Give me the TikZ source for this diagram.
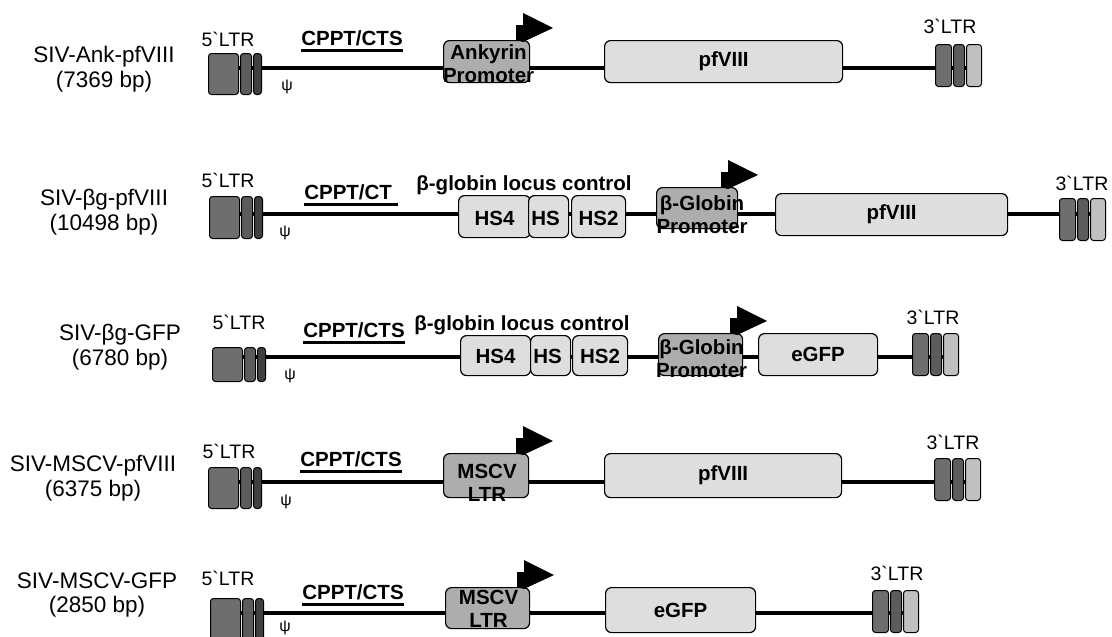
\documentclass[tikz,border=0pt]{standalone}
\usepackage{fontspec}
\setmainfont{Liberation Sans}
\usetikzlibrary{calc}
\definecolor{ltrgray}{HTML}{6E6E6E}
\definecolor{ltrmid}{HTML}{5C5C5C}
\definecolor{ltrdark}{HTML}{404040}
\definecolor{ltrlight}{HTML}{C0C0C0}
\definecolor{genefill}{HTML}{DEDEDE}
\definecolor{promfill}{HTML}{ADADAD}
\newcommand{\genefont}{\fontsize{20.5}{23}\selectfont\bfseries}
\newcommand{\rowfont}{\fontsize{22.5}{24.5}\selectfont}
\newcommand{\ltrfont}{\fontsize{19.5}{20}\selectfont}
\newcommand{\psifont}{\fontsize{16}{16}\selectfont}
% thick underline
\newcommand{\thickul}[1]{\sbox0{#1}\rlap{\rule[-6.5pt]{\wd0}{2.4pt}}\box0}
\tikzset{
  backbone/.style={line width=3.5pt},
  ltrbox/.style={draw, line width=1pt, rounded corners=3pt, inner sep=0pt, minimum height=42pt},
  gene/.style={draw, line width=1.2pt, rounded corners=6pt, fill=genefill, inner sep=0pt, minimum height=42pt, font=\genefont},
  promo/.style={gene, fill=promfill},
  boxtext/.style={font=\genefont, align=center, inner sep=0pt},
  rowname/.style={font=\rowfont, align=center, inner sep=0pt},
  ltrtext/.style={font=\ltrfont, inner sep=0pt},
  psitext/.style={font=\psifont, inner sep=0pt},
  cppt/.style={font=\genefont, inner sep=0pt},
  flag/.style={fill=black}
}
% 5' LTR: name, left x, top y, height
\newcommand{\fiveltr}[4]{
  \node[ltrbox, fill=ltrgray, minimum width=30pt, minimum height=#4pt, anchor=north west] (#1a) at (#2,#3) {};
  \node[ltrbox, fill=ltrmid, minimum width=11pt, minimum height=#4pt, anchor=north west] (#1b) at ([xshift=1pt]#1a.north east) {};
  \node[ltrbox, fill=ltrdark, minimum width=8pt, minimum height=#4pt, anchor=north west] (#1c) at ([xshift=1pt]#1b.north east) {};
}
% 3' LTR: name, left x, top y
\newcommand{\threeltr}[3]{
  \node[ltrbox, fill=ltrgray, minimum width=16pt, anchor=north west] (#1a) at (#2,#3) {};
  \node[ltrbox, fill=ltrmid, minimum width=11pt, anchor=north west] (#1b) at ([xshift=1pt]#1a.north east) {};
  \node[ltrbox, fill=ltrlight, minimum width=15pt, anchor=north west] (#1c) at ([xshift=1pt]#1b.north east) {};
}
% promoter flag: name, x, top of box
\newcommand{\promflag}[3]{
  \coordinate (#1) at (#2,#3);
  \fill[flag] (#2-7,#3) -- (#2-7,#3-15) -- (#2,#3-15) -- (#2,#3-27) -- (#2+30,#3-12) -- (#2,#3+2) -- cycle;
}

\begin{document}
\begin{tikzpicture}[x=1pt, y=-1pt]
  \useasboundingbox (0,0) rectangle (1112,637);
  % row 1
  \coordinate (s1) at (215,68);
  \coordinate (e1) at (970,68);
  \draw[backbone] (s1) -- (e1);
  \node[rowname] (n1) at (104,69) {SIV-Ank-pfVIII\\(7369 bp)};
  \fiveltr{fa}{208}{53}{41}
  \node[ltrtext] (fat) at (228,39) {5\textasciigrave LTR};
  \node[psitext] (pa) at (287,87) {ψ};
  \node[cppt] (ca) at (352,41) {\thickul{CPPT/CTS}};
  \node[promo, minimum width=86pt, anchor=north west] (pra) at (443,40) {};
  \node[boxtext] (prat) at ([xshift=2pt,yshift=-2pt]pra.center) {Ankyrin\\Promoter};
  \promflag{fla}{523}{40}
  \node[gene, minimum width=238pt, anchor=north west] (ga) at (604,40) {pfVIII};
  \threeltr{ta}{935}{44}
  \node[ltrtext] (tat) at (950,26) {3\textasciigrave LTR};
  % row 2
  \coordinate (s2) at (215,214);
  \coordinate (e2) at (1090,214);
  \draw[backbone] (s2) -- (e2);
  \node[rowname] (n2) at (104,212) {SIV-βg-pfVIII\\(10498 bp)};
  \fiveltr{fb}{209}{196}{42}
  \node[ltrtext] (fbt) at (228,180) {5\textasciigrave LTR};
  \node[psitext] (pb) at (285,233) {ψ};
  \node[cppt] (cb) at (351,195) {\thickul{CPPT/CT\ }};
  \node[boxtext] (lcb) at (524,185) {β-globin locus control};
  \node[gene, minimum width=72pt, anchor=north west] (hsb1) at (458,195) {};
  \node[gene, minimum width=40pt, anchor=north west] (hsb2) at (528,195) {};
  \node[gene, minimum width=54pt, anchor=north west] (hsb3) at (571,195) {};
  \node[boxtext] (hsb1t) at ([yshift=-2pt]hsb1.center) {HS4};
  \node[boxtext] (hsb2t) at ([xshift=-3pt,yshift=-2pt]hsb2.center) {HS};
  \node[boxtext] (hsb3t) at ([yshift=-2pt]hsb3.center) {HS2};
  \node[promo, minimum width=81pt, minimum height=41pt, anchor=north west] (prb) at (656,187) {};
  \node[boxtext] (prbt) at ([xshift=5pt,yshift=-7pt]prb.center) {β-Globin\\Promoter};
  \promflag{flb}{728}{187}
  \node[gene, minimum width=232pt, minimum height=42pt, anchor=north west] (gb) at (775,193) {pfVIII};
  \threeltr{tb}{1059}{198}
  \node[ltrtext] (tbt) at (1082,183) {3\textasciigrave LTR};
  % row 3
  \coordinate (s3) at (220,357);
  \coordinate (e3) at (945,357);
  \draw[backbone] (s3) -- (e3);
  \node[rowname] (n3) at (120,347) {SIV-βg-GFP\\(6780 bp)};
  \fiveltr{fc}{212}{347}{34}
  \node[ltrtext] (fct) at (239,322) {5\textasciigrave LTR};
  \node[psitext] (pc) at (290,376) {ψ};
  \node[cppt] (cc) at (354,333) {\thickul{CPPT/CTS}};
  \node[boxtext] (lcc) at (522,325) {β-globin locus control};
  \node[gene, minimum width=70pt, minimum height=40pt, anchor=north west] (hsc1) at (460,335) {};
  \node[gene, minimum width=40pt, minimum height=40pt, anchor=north west] (hsc2) at (530,335) {};
  \node[gene, minimum width=55pt, minimum height=40pt, anchor=north west] (hsc3) at (572,335) {};
  \node[boxtext] (hsc1t) at ([yshift=-1pt]hsc1.center) {HS4};
  \node[boxtext] (hsc2t) at ([xshift=-3pt,yshift=-1pt]hsc2.center) {HS};
  \node[boxtext] (hsc3t) at ([yshift=-1pt]hsc3.center) {HS2};
  \node[promo, minimum width=84pt, anchor=north west] (prc) at (658,333) {};
  \node[boxtext] (prct) at ([xshift=1pt,yshift=-4pt]prc.center) {β-Globin\\Promoter};
  \promflag{flc}{737}{333}
  \node[gene, minimum width=119pt, anchor=north west] (gc) at (758,333) {eGFP};
  \threeltr{tc}{912}{333}
  \node[ltrtext] (tct) at (933,317) {3\textasciigrave LTR};
  % row 4
  \coordinate (s4) at (215,482);
  \coordinate (e4) at (970,482);
  \draw[backbone] (s4) -- (e4);
  \node[rowname] (n4) at (93,478) {SIV-MSCV-pfVIII\\(6375 bp)};
  \fiveltr{fd}{208}{467}{41}
  \node[ltrtext] (fdt) at (229,451) {5\textasciigrave LTR};
  \node[psitext] (pd) at (286,502) {ψ};
  \node[cppt] (cd) at (351,462) {\thickul{CPPT/CTS}};
  \node[promo, minimum width=85pt, minimum height=44pt, anchor=north west] (prd) at (443,453) {};
  \node[boxtext] (prdt) at ([xshift=1pt,yshift=-7pt]prd.center) {MSCV\\LTR};
  \promflag{fld}{523}{453}
  \node[gene, minimum width=237pt, minimum height=44pt, anchor=north west] (gd) at (604,453) {pfVIII};
  \threeltr{td}{934}{458}
  \node[ltrtext] (tdt) at (953,442) {3\textasciigrave LTR};
  % row 5
  \coordinate (s5) at (217,613);
  \coordinate (e5) at (905,613);
  \draw[backbone] (s5) -- (e5);
  \node[rowname] (n5) at (97,595) {SIV-MSCV-GFP\\(2850 bp)};
  \fiveltr{fe}{210}{598}{42}
  \node[ltrtext] (fet) at (228,578) {5\textasciigrave LTR};
  \node[psitext] (pe) at (285,628) {ψ};
  \node[cppt] (ce) at (353,595) {\thickul{CPPT/CTS}};
  \node[promo, minimum width=84pt, minimum height=41pt, anchor=north west] (pre) at (445,587) {};
  \node[boxtext] (pret) at ([xshift=1pt,yshift=-1pt]pre.center) {MSCV\\LTR};
  \promflag{fle}{524}{587}
  \node[gene, minimum width=150pt, minimum height=45pt, anchor=north west] (ge) at (605,587) {eGFP};
  \threeltr{te}{872}{590}
  \node[ltrtext] (tet) at (897,573) {3\textasciigrave LTR};
\end{tikzpicture}
\end{document}
